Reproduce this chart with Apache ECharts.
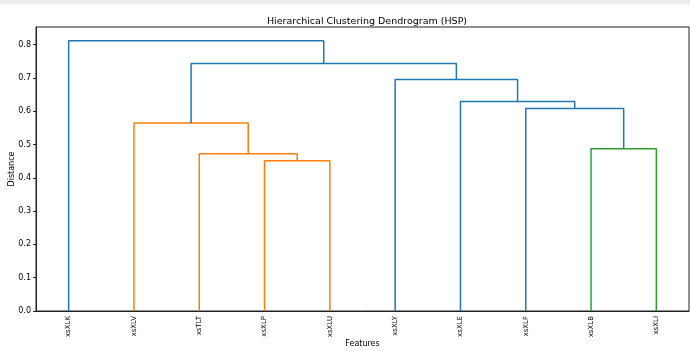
<!DOCTYPE html>
<html>
<head>
<meta charset="utf-8">
<script src="https://cdn.jsdelivr.net/npm/echarts@6/dist/echarts.min.js"></script>
<style>
  html, body { margin: 0; padding: 0; background: #fff; }
  #chart { width: 690px; height: 351px; }
</style>
</head>
<body>
<div id="chart"></div>
<script>
// 叶子节点（从左到右）
var leaves = ['xsXLK', 'xsXLV', 'xsTLT', 'xsXLP', 'xsXLU', 'xsXLY', 'xsXLE', 'xsXLF', 'xsXLB', 'xsXLI'];
// 合并步骤 (scipy linkage 风格): 左子节点, 右子节点, 距离
var mergeLeft = [3, 2, 8, 1, 7, 6, 5, 13, 0];
var mergeRight = [4, 10, 9, 11, 12, 14, 15, 16, 17];
var mergeHeight = [0.451, 0.472, 0.487, 0.565, 0.608, 0.629, 0.695, 0.743, 0.812];
var mergeColor = ['#ff7f0e', '#ff7f0e', '#2ca02c', '#ff7f0e', '#1f77b4', '#1f77b4', '#1f77b4', '#1f77b4', '#1f77b4'];
var yTicks = [0, 0.1, 0.2, 0.3, 0.4, 0.5, 0.6, 0.7, 0.8];

// 节点位置
var nodeX = [], nodeY = [];
for (var i = 0; i < leaves.length; i++) {
    nodeX.push(i * 10 + 5);
    nodeY.push(0);
}
var series = [];
for (var k = 0; k < mergeHeight.length; k++) {
    var a = mergeLeft[k], b = mergeRight[k], h = mergeHeight[k];
    series.push({
        type: 'line',
        xAxisIndex: 0,
        symbol: 'none',
        silent: true,
        lineStyle: { color: mergeColor[k], width: 1.5 },
        data: [[nodeX[a], nodeY[a]], [nodeX[a], h], [nodeX[b], h], [nodeX[b], nodeY[b]]]
    });
    nodeX.push((nodeX[a] + nodeX[b]) / 2);
    nodeY.push(h);
}

var myChart = echarts.init(document.getElementById('chart'));
myChart.setOption({
    animation: false,
    backgroundColor: '#fff',
    textStyle: { fontFamily: 'DejaVu Sans' },
    graphic: [{
        type: 'rect',
        shape: { x: 0, y: 0, width: 690, height: 4 },
        style: { fill: '#ececec' }
    }],
    title: {
        text: 'Hierarchical Clustering Dendrogram (HSP)',
        left: 362, top: 12, textAlign: 'center',
        textStyle: { fontSize: 9.5, fontWeight: 'normal', color: '#000', fontFamily: 'DejaVu Sans' }
    },
    grid: {
        left: 36, right: 1, top: 27, bottom: 40,
        outerBoundsMode: 'none',
        containLabel: false,
        show: true, borderColor: '#222', borderWidth: 1
    },
    xAxis: [{
        type: 'value', min: 0, max: 100,
        show: false
    }, {
        type: 'category',
        data: leaves,
        boundaryGap: true,
        position: 'bottom',
        name: 'Features',
        nameLocation: 'middle',
        nameGap: 29,
        nameMoveOverlap: false,
        nameTextStyle: { fontSize: 8, color: '#000' },
        axisLine: { lineStyle: { color: '#222' } },
        axisTick: { alignWithLabel: true, length: 3, lineStyle: { color: '#222' } },
        axisLabel: { rotate: 90, fontSize: 7, color: '#000', margin: 5, interval: 0 },
        splitLine: { show: false }
    }],
    yAxis: {
        type: 'value', min: 0, max: 0.853,
        name: 'Distance',
        nameLocation: 'middle',
        nameGap: 20,
        nameRotate: 90,
        nameMoveOverlap: false,
        nameTextStyle: { fontSize: 8, color: '#000' },
        axisLine: { show: true, lineStyle: { color: '#222' } },
        axisTick: { show: true, length: 3, customValues: yTicks, lineStyle: { color: '#222' } },
        axisLabel: {
            fontSize: 8, color: '#000', margin: 5, customValues: yTicks,
            formatter: function (v) { return v.toFixed(1); }
        },
        splitLine: { show: false }
    },
    series: series
});
</script>
</body>
</html>
